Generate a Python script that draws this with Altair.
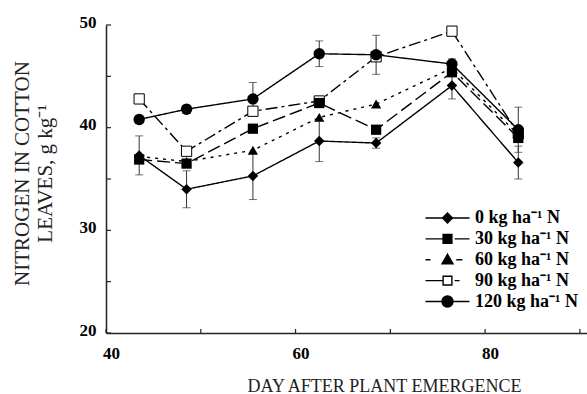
import altair as alt
import pandas as pd

# ---- data ----
days = [43.5, 48.5, 55.5, 62.5, 68.5, 76.5, 83.5]
series_names = ["\u2007\u20070 kg ha\u207b\u00b9 N", "\u200730 kg ha\u207b\u00b9 N", "\u200760 kg ha\u207b\u00b9 N",
                "\u200790 kg ha\u207b\u00b9 N", "120 kg ha\u207b\u00b9 N"]
n0 = [37.3, 34.0, 35.3, 38.7, 38.5, 44.1, 36.6]
n30 = [36.9, 36.5, 39.9, 42.4, 39.8, 45.4, 39.0]
n60 = [37.2, 36.7, 37.8, 41.0, 42.3, 45.8, 39.3]
n90 = [42.8, 37.7, 41.6, 42.6, 46.9, 49.4, 39.4]
n120 = [40.8, 41.8, 42.8, 47.2, 47.1, 46.2, 39.8]
err0 = [1.9, 1.8, 2.3, 2.0, 0.5, 1.3, 1.6]
err120 = [0.4, 0.4, 1.6, 1.25, 1.9, 0.5, 2.2]
y_ticks = [20, 25, 30, 35, 40, 45, 50]
x_ticks = [40, 50, 60, 70, 80, 90]

values = [n0, n30, n60, n90, n120]
rows = []
for name, vals in zip(series_names, values):
    for d, v in zip(days, vals):
        rows.append({"day": d, "n": v, "series": name})
df = pd.DataFrame(rows)

err_rows = []
for vals, errs in ((n0, err0), (n120, err120)):
    for d, v, e in zip(days, vals, errs):
        err_rows.append({"day": d, "lo": v - e, "hi": v + e})
edf = pd.DataFrame(err_rows)

leg_df = pd.DataFrame({"series": series_names, "rank": list(range(len(series_names)))})

FONT = "Liberation Serif"
xscale = alt.Scale(domain=[40, 90.75], nice=False, zero=False)
yscale = alt.Scale(domain=[20, 50], nice=False, zero=False)

X = alt.X("day:Q", scale=xscale, axis=alt.Axis(
    values=[40, 60, 80], format="d", ticks=False, grid=False, labelFlush=False,
    labelFont=FONT, labelFontWeight="bold", labelFontSize=17, labelPadding=12, labelOffset=5,
    labelColor="black", domainColor="#222", domainWidth=1.5,
    title="DAY AFTER PLANT EMERGENCE", titleFont=FONT, titleFontWeight="normal",
    titleFontSize=18, titleColor="#222", titleX=278, titleY=58, titleBaseline="alphabetic",
    titleAlign="center"))
Y = alt.Y("n:Q", scale=yscale, axis=alt.Axis(
    values=[20, 30, 40, 50], format="d", ticks=False, grid=False, labelFlush=False,
    labelFont=FONT, labelFontWeight="bold", labelFontSize=17, labelPadding=10, labelOffset=-3,
    labelColor="black", domainColor="#222", domainWidth=1.5,
    title=["NITROGEN IN COTTON", "LEAVES, g kg\u207b\u00b9"], titleFont=FONT,
    titleFontWeight="normal", titleFontSize=21, titleColor="#222", titleAngle=-90,
    titleX=-95, titleY=148, titleBaseline="top", titleAlign="center", titleLineHeight=23))

base = alt.Chart(df)

lines = base.mark_line(color="black", strokeWidth=1.4).encode(
    x=X, y=Y, detail="series:N",
    strokeDash=alt.StrokeDash("series:N", scale=alt.Scale(
        domain=series_names, range=[[1, 0], [13, 5], [3, 5], [12, 4, 3, 4], [1, 0]]), legend=None))

err_rule = alt.Chart(edf).mark_rule(color="#333", strokeWidth=1).encode(
    x=alt.X("day:Q", scale=xscale), y=alt.Y("lo:Q", scale=yscale), y2="hi:Q")
cap_lo = alt.Chart(edf).mark_tick(color="#333", orient="horizontal", size=8, thickness=1).encode(
    x=alt.X("day:Q", scale=xscale), y=alt.Y("lo:Q", scale=yscale))
cap_hi = alt.Chart(edf).mark_tick(color="#333", orient="horizontal", size=8, thickness=1).encode(
    x=alt.X("day:Q", scale=xscale), y=alt.Y("hi:Q", scale=yscale))

marker_specs = [
    (series_names[3], dict(shape="square", size=105, filled=True, fill="white", stroke="black", strokeWidth=1)),
    (series_names[0], dict(shape="diamond", size=110, filled=True, color="black")),
    (series_names[2], dict(shape="triangle-up", size=105, filled=True, color="black")),
    (series_names[1], dict(shape="square", size=105, filled=True, color="black")),
    (series_names[4], dict(shape="circle", size=130, filled=True, color="black")),
]
markers = []
for name, props in marker_specs:
    markers.append(base.transform_filter(alt.datum.series == name).mark_point(opacity=1, **props).encode(x=X, y=Y))

ytick_layer = alt.Chart(pd.DataFrame({"v": y_ticks})).mark_rule(color="#222", strokeWidth=1.2).encode(
    y=alt.Y("v:Q", scale=yscale), x=alt.value(0), x2=alt.value(5))
xtick_layer = alt.Chart(pd.DataFrame({"d": x_ticks})).mark_rule(color="#222", strokeWidth=1.2).encode(
    x=alt.X("d:Q", scale=xscale), y=alt.value(308), y2=alt.value(304))

main = alt.layer(lines, err_rule, cap_lo, cap_hi, *markers, ytick_layer, xtick_layer)

# ---- legend: line + marker combined in custom symbol paths (1 unit = 5.5 px) ----
leg_paths = [
    "M-4,0H4M-0.9,0L0,-0.9L0.9,0L0,0.9Z",
    "M-4,0H0M1.3,0H4M-0.8,-0.8H0.8V0.8H-0.8Z",
    "M-4,0H-3.1M1.6,0H2.7M0,-1L1,0.75L-1,0.75Z",
    "M-4,0H-0.9M1.3,0H2.2M-0.8,-0.8H0.8V0.8H-0.8Z",
    "M-4,0H4M-1,0C-1,-0.55,-0.55,-1,0,-1C0.55,-1,1,-0.55,1,0C1,0.55,0.55,1,0,1C-0.55,1,-1,0.55,-1,0Z",
]
leg_fill = ["black", "black", "black", "white", "black"]
leg_y = alt.Y("rank:Q", axis=None, scale=alt.Scale(domain=[0, 4], range=[193, 276.5], nice=False, zero=False))
leg_sym = alt.Chart(leg_df).mark_point(filled=True, opacity=1, size=121, stroke="black", strokeWidth=1.4).encode(
    y=leg_y, x=alt.value(341.5),
    shape=alt.Shape("series:N", scale=alt.Scale(domain=series_names, range=leg_paths), legend=None),
    fill=alt.Fill("series:N", scale=alt.Scale(domain=series_names, range=leg_fill), legend=None),
)
leg_txt = alt.Chart(leg_df).mark_text(align="left", baseline="middle", font=FONT, fontWeight="bold",
                                      fontSize=18, color="black").encode(
    y=leg_y, x=alt.value(369), text="series:N")
legend = alt.layer(leg_sym, leg_txt)

chart = alt.layer(main, legend).resolve_scale(y="independent").properties(
    width=481, height=308, autosize="none",
    padding={"left": 106, "top": 25, "right": 0, "bottom": 61},
).configure_view(stroke=None)

chart.save("out.html", embed_options={"renderer": "svg", "actions": False})
